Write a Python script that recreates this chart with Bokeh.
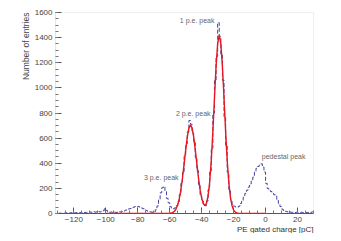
from bokeh.plotting import figure
from bokeh.models import Label, FixedTicker, Range1d, Title
from bokeh.embed import file_html
from bokeh.resources import INLINE

# Histogram: 1 pC bins, left edges from -130 to 29
bin_left_edges = list(range(-130, 30))
counts = [
    2, 3, 1, 4, 2, 5, 3, 4, 6, 3,
    5, 7, 4, 6, 8, 5, 9, 7, 10, 8,
    12, 9, 14, 11, 13, 16, 12, 18, 22, 38,
    25, 14, 10, 12, 9, 11, 8, 10, 14, 12,
    16, 20, 26, 30, 36, 40, 46, 50, 55, 52,
    56, 50, 44, 38, 30, 24, 18, 14, 12, 10,
    14, 30, 60, 110, 165, 205, 215, 175, 120, 85,
    55, 42, 38, 45, 62, 95, 150, 240, 330, 455,
    555, 650, 740, 710, 640, 565, 445, 340, 230, 150,
    100, 70, 62, 100, 190, 330, 520, 800, 1060, 1250,
    1520, 1410, 1260, 1060, 770, 540, 330, 190, 105, 70,
    58, 52, 50, 58, 80, 105, 130, 160, 185, 210,
    235, 260, 290, 330, 360, 375, 385, 395, 370, 330,
    240, 200, 185, 175, 160, 150, 140, 110, 80, 55,
    35, 25, 18, 14, 10, 12, 9, 11, 8, 10,
    9, 7, 10, 8, 9, 7, 8, 11, 9, 14,
]

# Fit curve (sampled at 1 pC steps from -100 to 0)
fit_x = list(range(-100, 1))
fit_y = [0] * 38 + [
    0.2, 0.5, 1.5, 3.7, 8.5, 18, 37, 68, 118, 189,
    283, 393, 507, 609, 680, 705, 680, 609, 507, 393,
    283, 190, 122, 79, 64, 80, 139, 249, 420, 651,
    915, 1168, 1352, 1420, 1352, 1168, 915, 650, 419, 245,
    130, 62, 27, 11, 3.9, 1.3, 0.4,
] + [0] * 16

x_ticks = [-120, -100, -80, -60, -40, -20, 0, 20]
y_ticks = [0, 200, 400, 600, 800, 1000, 1200, 1400, 1600]

peak_labels = ["1 p.e. peak", "2 p.e. peak", "3 p.e. peak", "pedestal peak"]
peak_label_x = [-32, -45.3, -65.3, 11.3]
peak_label_y = [1536, 800, 288, 456]
peak_label_align = ["right", "center", "center", "center"]

bin_centers = [e + 0.5 for e in bin_left_edges]

FONT = "Liberation Sans"

p = figure(width=333, height=233, output_backend="svg", toolbar_location=None,
           x_range=Range1d(-131.5, 30), y_range=Range1d(0, 1600),
           min_border_left=55, min_border_right=20, min_border_top=12,
           min_border_bottom=20)
p.background_fill_color = "white"
p.border_fill_color = "white"
p.outline_line_color = "#eeeeee"
p.grid.visible = False

p.xaxis.ticker = FixedTicker(ticks=x_ticks,
                             minor_ticks=list(range(-130, 31, 5)))
p.yaxis.ticker = FixedTicker(ticks=y_ticks,
                             minor_ticks=list(range(0, 1601, 50)))
for ax in (p.xaxis, p.yaxis):
    ax.major_tick_in = 6
    ax.major_tick_out = 0
    ax.minor_tick_in = 3
    ax.minor_tick_out = 0
    ax.major_tick_line_color = "#555555"
    ax.minor_tick_line_color = "#777777"
    ax.major_label_text_font = FONT
    ax.major_label_text_font_size = "8px"
    ax.major_label_text_color = "#444444"
    ax.major_label_standoff = 3
p.xaxis.axis_line_color = "#555555"
p.yaxis.axis_line_color = "#e6e6e6"
p.xaxis.major_label_overrides = {t: ("\u2212" + str(-t) if t < 0 else str(t)) for t in x_ticks}

p.add_layout(Title(text="PE gated charge [pC]", align="right",
                   text_font=FONT, text_font_size="8px", text_font_style="normal",
                   text_color="#333333", standoff=-3), "below")
p.add_layout(Title(text="Number of entries", align="right",
                   text_font=FONT, text_font_size="8.5px", text_font_style="normal",
                   text_color="#444444", standoff=2), "left")

p.step(x=bin_centers, y=counts, mode="center", line_color="#45459a",
       line_width=1, line_dash="4 2")
p.line(x=fit_x, y=fit_y, line_color="#e8161e", line_width=1.4)

for t, x, y, a in zip(peak_labels, peak_label_x, peak_label_y, peak_label_align):
    p.add_layout(Label(x=x, y=y, text=t, text_align=a, text_baseline="middle",
                       text_font=FONT, text_font_size="7px",
                       text_color="#666666"))

open("out.html", "w").write(file_html(p, INLINE))
